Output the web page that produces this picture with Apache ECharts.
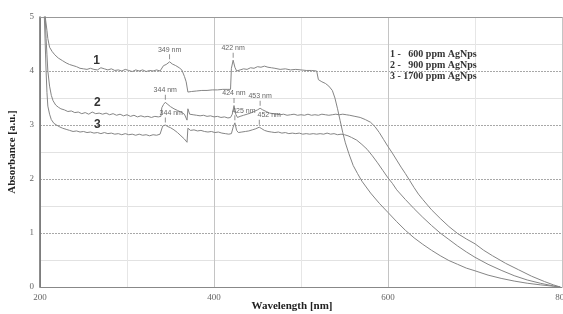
<!DOCTYPE html>
<html><head><meta charset="utf-8">
<script src="https://cdn.jsdelivr.net/npm/echarts@6/dist/echarts.min.js"></script>
<style>html,body{margin:0;padding:0;background:#fff}#c{width:563px;height:314px}</style>
</head><body><div id="c"></div>
<script>
// ---- data ----
const wl1 = [204,206,208,209,211,214,217,221,226,230,234,238,242,246,250,254,258,262,266,270,274,278,282,286,290,294,298,302,306,310,314,318,322,326,330,334,338,340,342,345,349,352,356,360,363,366,368,370,374,380,386,392,398,404,410,416,419,420,422,424,426,430,434,438,442,446,450,454,458,462,466,470,476,482,488,494,500,506,512,518,520,524,528,532,536,539,542,545,548,551,555,560,565,570,580,590,600,610,620,630,640,650,660,670,680,690,700,715,730,745,760,775,790,798];
const abs1 = [5.3,5.0,4.75,4.6,4.44,4.36,4.3,4.24,4.19,4.15,4.12,4.1,4.08,4.05,4.04,4.03,4.05,4.03,4.02,4.06,4.04,4.02,4.04,4.01,4.02,4.0,4.03,4.01,3.99,4.02,4.0,4.02,3.99,4.01,4.0,4.02,4.0,4.03,4.1,4.12,4.17,4.13,4.1,4.06,4.02,3.9,3.8,3.61,3.62,3.63,3.64,3.64,3.65,3.65,3.66,3.66,3.66,4.05,4.2,4.07,4.0,4.02,4.04,4.03,4.06,4.05,4.08,4.07,4.09,4.07,4.06,4.05,4.03,4.04,4.02,4.03,4.02,4.01,4.01,4.0,3.84,3.8,3.77,3.72,3.64,3.5,3.3,3.08,2.86,2.67,2.47,2.25,2.1,1.96,1.74,1.55,1.38,1.21,1.05,0.91,0.79,0.68,0.58,0.49,0.42,0.35,0.3,0.22,0.16,0.11,0.07,0.04,0.015,0];

const wl2 = [204,206,207,208,209,211,213,215,218,221,224,228,232,236,240,244,248,252,256,260,264,268,272,276,280,284,288,292,296,300,304,308,312,316,320,324,328,332,336,339,340,342,344,347,350,354,358,362,366,368,369,370,372,376,380,384,388,392,396,400,404,408,412,416,419,421,423,425,427,430,434,438,442,446,450,453,456,460,464,468,472,476,480,484,488,492,496,500,504,508,512,516,520,524,528,532,536,540,544,548,552,556,562,568,574,580,585,590,595,600,605,610,615,620,625,630,635,640,650,660,670,680,690,700,710,720,735,750,765,780,790,798];
const abs2 = [5.3,5.0,4.6,4.3,4.0,3.72,3.55,3.45,3.37,3.33,3.3,3.28,3.25,3.26,3.23,3.24,3.21,3.23,3.2,3.24,3.21,3.22,3.2,3.22,3.19,3.21,3.18,3.2,3.17,3.19,3.16,3.18,3.15,3.17,3.15,3.16,3.14,3.16,3.15,3.16,3.32,3.38,3.42,3.38,3.34,3.3,3.27,3.24,3.2,3.18,3.09,3.3,3.2,3.19,3.18,3.17,3.18,3.16,3.17,3.15,3.16,3.14,3.15,3.13,3.14,3.2,3.36,3.2,3.14,3.16,3.18,3.2,3.22,3.25,3.28,3.31,3.28,3.25,3.22,3.21,3.2,3.19,3.2,3.18,3.19,3.2,3.18,3.19,3.18,3.2,3.18,3.19,3.18,3.2,3.19,3.18,3.19,3.2,3.19,3.2,3.19,3.18,3.16,3.14,3.1,3.05,2.97,2.86,2.73,2.6,2.48,2.35,2.22,2.1,1.97,1.84,1.72,1.62,1.43,1.27,1.12,0.99,0.89,0.8,0.68,0.58,0.44,0.32,0.2,0.1,0.04,0];

const wl3 = [204,205,206,207,208,209,211,213,216,219,222,226,230,234,238,242,246,250,254,258,262,266,270,274,278,282,286,290,294,298,302,306,310,314,318,322,326,330,334,338,340,341,344,347,350,354,358,362,366,369,370,373,377,381,385,389,393,397,401,405,409,413,417,420,422,424,426,428,432,436,440,444,448,452,455,458,462,466,470,474,478,482,486,490,494,498,502,506,510,514,518,522,526,530,534,538,542,546,550,554,558,564,570,576,582,588,594,600,605,610,620,630,640,650,660,670,680,690,700,715,730,745,760,775,790,798];
const abs3 = [5.3,5.0,4.5,4.0,3.6,3.35,3.2,3.1,3.03,3.0,2.97,2.94,2.92,2.9,2.88,2.89,2.87,2.88,2.86,2.87,2.85,2.86,2.84,2.86,2.84,2.85,2.83,2.84,2.82,2.84,2.82,2.83,2.81,2.83,2.81,2.82,2.8,2.82,2.81,2.83,2.82,2.98,3.0,2.97,2.95,2.91,2.86,2.8,2.74,2.68,2.94,2.9,2.91,2.89,2.9,2.88,2.87,2.88,2.86,2.87,2.85,2.84,2.83,2.84,2.96,3.04,2.9,2.86,2.87,2.88,2.89,2.91,2.93,2.96,2.93,2.9,2.88,2.87,2.86,2.87,2.85,2.86,2.84,2.85,2.84,2.85,2.83,2.84,2.83,2.84,2.83,2.84,2.83,2.85,2.83,2.84,2.82,2.83,2.82,2.8,2.77,2.72,2.64,2.55,2.43,2.3,2.16,2.02,1.92,1.8,1.62,1.45,1.29,1.14,1.0,0.88,0.76,0.65,0.55,0.42,0.31,0.21,0.13,0.07,0.02,0];

const xTicks = [200, 400, 600, 800];
const yTicks = [0, 1, 2, 3, 4, 5];
const legendLines = ['1 -   600 ppm AgNps', '2 -   900 ppm AgNps', '3 - 1700 ppm AgNps'];
// peak annotations: [label, wavelength of peak, absorbance of peak]
const peaks1 = [['349 nm', 349, 4.17], ['422 nm', 422, 4.2]];
const peaks2 = [['344 nm', 344, 3.42], ['424 nm', 423, 3.36], ['453 nm', 453, 3.31]];
const peaks3 = [['344 nm', 344, 3.0], ['425 nm', 424, 3.04], ['452 nm', 452, 2.96]];
const curveNames = ['1', '2', '3'];

const zip = (a, b) => a.map((x, i) => [x, b[i]]);
const lineColor = '#858585';
const serif = '"Liberation Serif", "DejaVu Serif", serif';

function peakMarks(peaks, dx) {
  return peaks.map((p, i) => ({
    coord: [p[1], p[2]], symbol: 'rect', symbolSize: [0.8, 5], symbolOffset: [0, -5],
    itemStyle: { color: '#777' },
    label: { show: true, formatter: p[0], position: 'top', distance: 1, offset: [dx ? dx[i] : 0, 0],
      fontFamily: '"Liberation Sans", Arial, sans-serif', fontSize: 7, color: '#666' }
  }));
}
function numLabel(txt, x, y) {
  return { coord: [x, y], symbol: 'circle', symbolSize: 1, itemStyle: { color: 'rgba(0,0,0,0)' },
    label: { show: true, formatter: txt, position: 'inside',
      fontFamily: '"Liberation Sans", Arial, sans-serif', fontWeight: 'bold', fontSize: 12, color: '#333' } };
}
function mkSeries(wl, ab, marks) {
  return { type: 'line', data: zip(wl, ab), symbol: 'none', clip: true, animation: false,
    lineStyle: { color: lineColor, width: 1 }, z: 3,
    markPoint: { silent: true, animation: false, data: marks } };
}

const chart = echarts.init(document.getElementById('c'), null, { renderer: 'canvas' });
chart.setOption({
  animation: false,
  backgroundColor: '#fff',
  grid: { left: 40, right: 1, top: 17, bottom: 27, containLabel: false, outerBoundsMode: 'none' },
  xAxis: [{
    type: 'value', min: xTicks[0], max: xTicks[xTicks.length - 1], interval: 200,
    name: 'Wavelength [nm]', nameLocation: 'middle', nameGap: 14, nameMoveOverlap: false,
    nameTextStyle: { fontFamily: serif, fontWeight: 'bold', fontSize: 11, color: '#222', padding: [0, 18, 0, 0] },
    axisLine: { show: true, lineStyle: { color: '#888', width: 1 } },
    axisTick: { show: false },
    axisLabel: { fontFamily: serif, fontSize: 9, color: '#666', margin: 6 },
    splitLine: { show: true, lineStyle: { color: '#c4c4c4', width: 1 } },
    minorTick: { show: false, splitNumber: 2 },
    minorSplitLine: { show: true, lineStyle: { color: '#e6e6e6', width: 1 } }
  }, {
    type: 'value', position: 'top', min: 200, max: 800,
    axisLine: { show: true, lineStyle: { color: '#999', width: 1 } },
    axisTick: { show: false }, axisLabel: { show: false }, splitLine: { show: false }
  }],
  yAxis: {
    type: 'value', min: yTicks[0], max: yTicks[yTicks.length - 1], interval: 1,
    name: 'Absorbance [a.u.]', nameLocation: 'middle', nameGap: 22, nameMoveOverlap: false,
    nameTextStyle: { fontFamily: serif, fontWeight: 'bold', fontSize: 11, color: '#222' },
    axisLine: { show: true, lineStyle: { color: '#666', width: 1.5 } },
    axisTick: { show: false },
    axisLabel: { fontFamily: serif, fontSize: 9, color: '#666', margin: 6 },
    splitLine: { show: true, lineStyle: { color: '#a8a8a8', width: 1, type: [2, 1] } },
    minorTick: { show: false, splitNumber: 2 },
    minorSplitLine: { show: true, lineStyle: { color: '#e2e2e2', width: 1 } }
  },
  series: [
    mkSeries(wl1, abs1, peakMarks(peaks1).concat([numLabel(curveNames[0], 265, 4.2)])),
    mkSeries(wl2, abs2, peakMarks(peaks2).concat([numLabel(curveNames[1], 266, 3.42)])),
    mkSeries(wl3, abs3, peakMarks(peaks3, [6, 9, 10]).concat([numLabel(curveNames[2], 266, 3.0)]))
  ],
  graphic: legendLines.map((t, i) => ({
    type: 'text', left: 390, top: 49 + i * 11, z: 10,
    style: { text: t, font: 'bold 10px ' + serif, fill: '#333' }
  }))
});
</script></body></html>
